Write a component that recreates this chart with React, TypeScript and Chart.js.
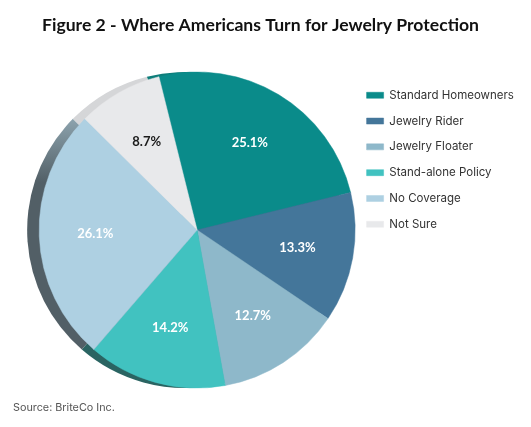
import React, { useEffect, useRef } from 'react';
import { Chart, registerables } from 'chart.js';

Chart.register(...registerables);

const categories = [
  'Standard Homeowners',
  'Jewelry Rider',
  'Jewelry Floater',
  'Stand-alone Policy',
  'No Coverage',
  'Not Sure',
];
const shares = [25.1, 13.3, 12.7, 14.2, 26.1, 8.7];
const sliceLabels = ['25.1%', '13.3%', '12.7%', '14.2%', '26.1%', '8.7%'];
const sliceColors = ['#0a8b8a', '#44769a', '#8eb8ca', '#41c2c0', '#aed0e2', '#e8e9eb'];
const sideColors = ['#0d7d7a', '#30566f', '#6a8c9a', '#2a6462', '#525f66', '#d5d6d8'];
const labelColors = ['#ffffff', '#ffffff', '#ffffff', '#ffffff', '#ffffff', '#1a1a1a'];
const titleText = 'Figure 2 - Where Americans Turn for Jewelry Protection';
const sourceText = 'Source: BriteCo Inc.';

const W = 531;
const H = 427;
const DEPTH = 12;
const LEGEND_FONT = 11.5;
const LEGEND_PAD = 14.6;
const BOX_W = 17;
const LEGEND_LEFT = 352;

const extrusionPlugin = {
  id: 'extrusion',
  beforeDatasetsDraw(chart: any) {
    const meta = chart.getDatasetMeta(0);
    const ctx = chart.ctx as CanvasRenderingContext2D;
    ctx.save();
    meta.data.forEach((arc: any, i: number) => {
      const { x, y, startAngle, endAngle, outerRadius } = arc.getProps(
        ['x', 'y', 'startAngle', 'endAngle', 'outerRadius'],
        true
      );
      const cx = x - DEPTH;
      let fill: any = sideColors[i];
      if (i === 4) {
        const g = ctx.createLinearGradient(0, y - outerRadius * 0.75, 0, y - outerRadius * 0.3);
        g.addColorStop(0, '#93abb6');
        g.addColorStop(1, '#525f66');
        fill = g;
      }
      ctx.beginPath();
      ctx.moveTo(cx, y);
      ctx.arc(cx, y, outerRadius, startAngle, endAngle);
      ctx.closePath();
      ctx.fillStyle = fill;
      ctx.fill();
    });
    ctx.restore();
  },
};

const sliceLabelPlugin = {
  id: 'sliceLabels',
  afterDatasetsDraw(chart: any) {
    const meta = chart.getDatasetMeta(0);
    const ctx = chart.ctx as CanvasRenderingContext2D;
    ctx.save();
    ctx.font = 'bold 13px Lato';
    ctx.textAlign = 'center';
    ctx.textBaseline = 'middle';
    meta.data.forEach((arc: any, i: number) => {
      const { x, y, startAngle, endAngle, outerRadius } = arc.getProps(
        ['x', 'y', 'startAngle', 'endAngle', 'outerRadius'],
        true
      );
      const mid = (startAngle + endAngle) / 2;
      const r = outerRadius * 0.645;
      ctx.fillStyle = labelColors[i];
      ctx.fillText(sliceLabels[i], x + Math.cos(mid) * r, y + Math.sin(mid) * r);
    });
    ctx.restore();
  },
};

const sourcePlugin = {
  id: 'sourceNote',
  afterDraw(chart: any) {
    const ctx = chart.ctx as CanvasRenderingContext2D;
    ctx.save();
    ctx.font = '10.8px Inter';
    ctx.fillStyle = '#555555';
    ctx.textAlign = 'left';
    ctx.textBaseline = 'middle';
    ctx.fillText(sourceText, 13, 408);
    ctx.restore();
  },
};

export default function App() {
  const canvasRef = useRef<HTMLCanvasElement | null>(null);

  useEffect(() => {
    if (!canvasRef.current) return;
    const mctx = document.createElement('canvas').getContext('2d') as CanvasRenderingContext2D;
    mctx.font = `${LEGEND_FONT}px Inter`;
    const tw = Math.max(...categories.map((c) => mctx.measureText(c).width));
    const legendWidth = LEGEND_PAD + BOX_W + LEGEND_FONT / 2 + tw + 10;
    const padRight = Math.max(0, W - LEGEND_LEFT - legendWidth);

    const chart = new Chart(canvasRef.current, {
      type: 'pie',
      data: {
        labels: categories,
        datasets: [
          {
            data: shares,
            backgroundColor: sliceColors,
            borderColor: sliceColors,
            borderWidth: 0.5,
            radius: 158,
          } as any,
        ],
      },
      options: {
        animation: false,
        responsive: true,
        maintainAspectRatio: false,
        rotation: -14,
        layout: { padding: { left: 42, right: padRight, top: 0, bottom: 13.6 } },
        plugins: {
          title: {
            display: true,
            text: titleText,
            align: 'start',
            color: '#111111',
            font: { family: 'Lato', weight: 'bold', size: 17.6 },
            padding: { top: 15.2, bottom: 10.3 },
          },
          legend: {
            position: 'right',
            align: 'start',
            fullSize: false,
            title: {
              display: true,
              text: ' ',
              font: { size: 10, lineHeight: 1 },
              padding: { top: 18.6, bottom: 0 },
            },
            labels: {
              boxWidth: BOX_W,
              boxHeight: 6,
              padding: 14.3,
              color: '#333333',
              font: { family: 'Inter', size: LEGEND_FONT },
            },
          },
          tooltip: { enabled: false },
        },
      } as any,
      plugins: [extrusionPlugin, sliceLabelPlugin, sourcePlugin],
    });
    return () => chart.destroy();
  }, []);

  return (
    <div style={{ position: 'absolute', left: 0, top: 0, width: W, height: H, background: '#ffffff' }}>
      <canvas ref={canvasRef} />
    </div>
  );
}
